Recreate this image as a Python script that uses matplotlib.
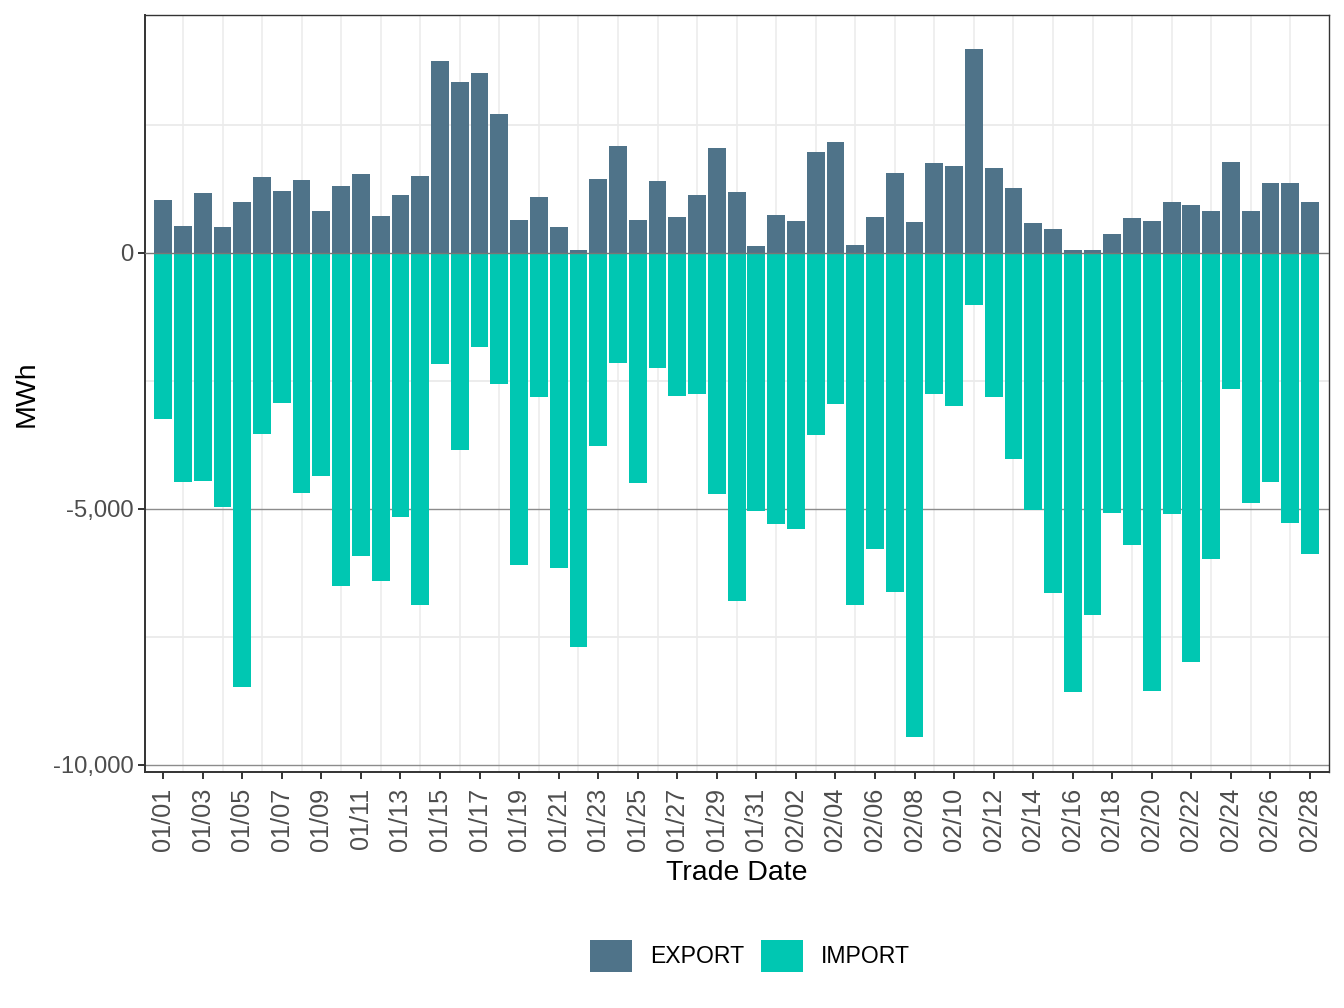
import pandas as pd
import matplotlib
matplotlib.use("Agg")
import matplotlib.pyplot as plt
from matplotlib.patches import Patch
from matplotlib.ticker import FuncFormatter

plt.rcParams["font.family"] = ["Liberation Sans", "DejaVu Sans"]

# daily trade dates, Jan 1 - Feb 28
dates = pd.date_range("2023-01-01", "2023-02-28", freq="D")

export_mwh = [
    1035, 527, 1172, 508, 996, 1484, 1211, 1426, 820, 1309,
    1543, 723, 1133, 1504, 3750, 3340, 3516, 2715, 645, 1094,
    508, 59, 1445, 2090, 645, 1406, 703, 1133, 2051, 1191,
    137, 742, 625, 1973, 2168, 156, 703, 1562, 605, 1758,
    1699, 3984, 1660, 1270, 586, 469, 59, 59, 371, 684,
    625, 996, 937, 820, 1777, 820, 1367, 1367, 996,
]
import_mwh = [
    -3242, -4472, -4453, -4961, -8477, -3535, -2930, -4688, -4355, -6504,
    -5918, -6406, -5156, -6875, -2168, -3848, -1836, -2559, -6094, -2813,
    -6152, -7695, -3770, -2148, -4492, -2246, -2793, -2754, -4707, -6797,
    -5039, -5293, -5391, -3555, -2949, -6875, -5781, -6621, -9453, -2754,
    -2988, -1016, -2813, -4023, -5020, -6641, -8574, -7070, -5078, -5703,
    -8555, -5098, -7988, -5977, -2656, -4883, -4472, -5274, -5879,
]

EXPORT_COL = "#4F7389"
IMPORT_COL = "#00C7B2"

fig = plt.figure(figsize=(13.44, 10.08), dpi=100)
ax = fig.add_axes([145 / 1344, 1 - 772 / 1008, (1329 - 145) / 1344, (772 - 15) / 1008])

x = list(range(len(dates)))

# gridlines (light) - vertical on the in-between days, horizontal every 2500
for xv in x[1::2]:
    ax.axvline(xv, color="#EBEBEB", lw=1.1, zorder=0)
for yv in [2500, -2500, -7500]:
    ax.axhline(yv, color="#EBEBEB", lw=1.3, zorder=0)
for yv in [-5000, -10000]:
    ax.axhline(yv, color="#8C8C8C", lw=1.0, zorder=1)

ax.bar(x, export_mwh, width=0.9, color=EXPORT_COL, zorder=2)
ax.bar(x, import_mwh, width=0.9, color=IMPORT_COL, zorder=2)
ax.axhline(0, color="#777777", lw=1.0, zorder=3)

ax.set_xlim(-0.92, 58.96)
ax.set_ylim(-10137, 4648)

ax.set_xticks(x[::2])
ax.set_xticklabels([d.strftime("%m/%d") for d in dates[::2]], rotation=90)
ax.set_yticks([0, -5000, -10000])
ax.yaxis.set_major_formatter(FuncFormatter(lambda v, p: f"{v:,.0f}"))

ax.tick_params(axis="both", labelcolor="#4D4D4D",
               color="#333333", length=5.3, width=1.4)
ax.tick_params(axis="y", labelsize=17.2, pad=3)
ax.tick_params(axis="x", labelsize=18.2, pad=6)

for side in ["top", "right", "left", "bottom"]:
    ax.spines[side].set_color("#333333")
    ax.spines[side].set_linewidth(1.0)
ax.spines["left"].set_linewidth(1.4)
ax.spines["bottom"].set_linewidth(1.4)

ax.set_xlabel("Trade Date", fontsize=20.5, color="black")
ax.xaxis.set_label_coords(0.5, -0.116)
ax.set_ylabel("MWh", fontsize=20.5, color="black", labelpad=9.5)

handles = [Patch(facecolor=EXPORT_COL, label="EXPORT"),
           Patch(facecolor=IMPORT_COL, label="IMPORT")]
fig.legend(handles=handles, loc="center", bbox_to_anchor=(0.558, 1 - 956 / 1008),
           ncol=2, frameon=False, fontsize=16.6, handlelength=1.83,
           handleheight=1.79, handletextpad=0.77, columnspacing=0.72)

fig.savefig("out.png", dpi=100)
